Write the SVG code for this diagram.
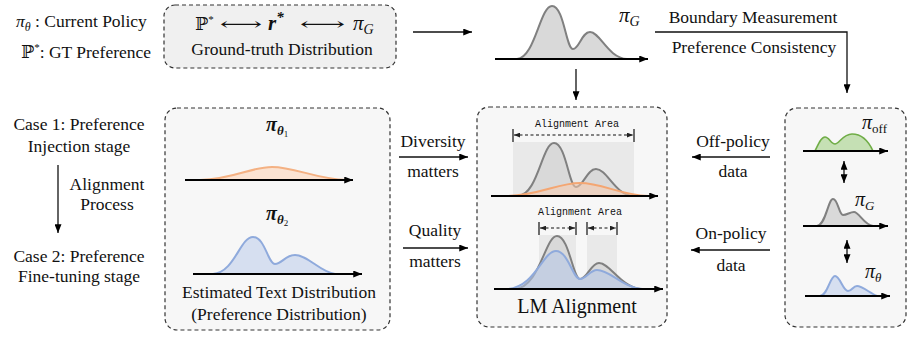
<svg xmlns="http://www.w3.org/2000/svg" width="913" height="338" viewBox="0 0 913 338">
<defs>
<marker id="ah" viewBox="0 0 10 8" refX="10" refY="4" markerWidth="9" markerHeight="7" markerUnits="userSpaceOnUse" orient="auto-start-reverse">
<path d="M0,0 L10,4 L0,8 Z" fill="#000"/>
</marker>
<marker id="ahs" viewBox="0 0 10 8" refX="10" refY="4" markerWidth="6" markerHeight="5" markerUnits="userSpaceOnUse" orient="auto-start-reverse">
<path d="M0,0 L10,4 L0,8 Z" fill="#222"/>
</marker>
<style>
text{font-family:"Liberation Serif","DejaVu Serif","DejaVu Sans",serif;fill:#111;}
.t{font-size:17.5px;}
.m{font-style:italic;}
.mono{font-family:"Liberation Mono","DejaVu Sans Mono",monospace;font-size:10px;}
.box{fill:#f7f7f7;stroke:#333;stroke-width:1.2;stroke-dasharray:4 3;}
.box2{fill:#f0f0f0;stroke:#333;stroke-width:1.2;stroke-dasharray:4 3;}
.conn{fill:none;stroke:#111;stroke-width:1.3;marker-end:url(#ah);}
.axis{fill:none;stroke:#000;stroke-width:2;marker-end:url(#ah);}
.dbl{fill:none;stroke:#111;stroke-width:1.3;marker-start:url(#ah);marker-end:url(#ah);}
.gray{fill:#d9d9d9;stroke:#808080;stroke-width:2;}
.orange{fill:#fbe3d2;stroke:#f4b183;stroke-width:2;}
.orangeT{fill:#f8cbad;fill-opacity:0.55;stroke:#f4a672;stroke-width:2;}
.blue{fill:#d6dff0;stroke:#8faadc;stroke-width:2;}
.blueT{fill:#b4c7e7;fill-opacity:0.55;stroke:#8faadc;stroke-width:2;}
.green{fill:#c5e0b4;stroke:#70ad47;stroke-width:1.6;}
.band{fill:#e9e9e9;}
.brk{fill:none;stroke:#111;stroke-width:1.2;}
.brkd{fill:none;stroke:#111;stroke-width:1.1;stroke-dasharray:3 2.5;marker-start:url(#ahs);marker-end:url(#ahs);}
</style>
</defs>

<g id="legend">
<text class="t" x="16" y="27"><tspan class="m">π</tspan><tspan class="m" font-size="12" dy="4">θ</tspan><tspan dy="-4"> : Current Policy</tspan></text>
<text class="t" x="21" y="58">ℙ<tspan font-size="11" dy="-7">*</tspan><tspan dy="7">: GT Preference</tspan></text>
</g>

<g id="ground-truth">
<rect class="box2" x="164" y="5" width="232" height="63" rx="11"/>
<text class="t" x="195" y="30">ℙ<tspan font-size="11" dy="-7">*</tspan></text>
<text class="t" x="220" y="30" textLength="42" lengthAdjust="spacingAndGlyphs">⟷</text>
<text x="268" y="30" font-size="21" font-weight="bold" font-style="italic">r<tspan font-size="15" dy="-8">*</tspan></text>
<text class="t" x="300" y="30" textLength="45" lengthAdjust="spacingAndGlyphs">⟷</text>
<text x="353" y="30" font-size="21" font-style="italic">π<tspan font-size="14" dy="4">G</tspan></text>
<text class="t" x="282" y="55" text-anchor="middle">Ground-truth Distribution</text>
</g>

<g id="pi-g-top">
<path class="gray" d="M517,59 C535,58 540,6 552,6 C564,6 566,49 573,49 C579,49 582,32 590,32 C600,32 608,58 627,59 Z"/>
<path class="axis" d="M495,59 L648,59"/>
<text x="619" y="22" font-size="21" font-style="italic">π<tspan font-size="14" dy="4">G</tspan></text>
</g>

<g id="stages">
<text class="t" x="79" y="130" text-anchor="middle">Case 1: Preference</text>
<text class="t" x="79" y="152" text-anchor="middle">Injection stage</text>
<text class="t" x="107" y="190" text-anchor="middle">Alignment</text>
<text class="t" x="107" y="210" text-anchor="middle">Process</text>
<text class="t" x="79" y="262" text-anchor="middle">Case 2: Preference</text>
<text class="t" x="79" y="282" text-anchor="middle">Fine-tuning stage</text>
</g>

<g id="estimated">
<rect class="box" x="165" y="108" width="225" height="222" rx="12"/>
<text x="266" y="131" font-size="20" font-weight="bold" font-style="italic">π<tspan font-size="13" dy="4">θ</tspan><tspan font-size="9" font-style="normal" font-weight="normal" dy="2">1</tspan></text>
<path class="orange" d="M200,180 C235,179 250,167 272,167 C295,167 315,179 347,180 Z"/>
<path class="axis" d="M185,180 L353,180"/>
<text x="266" y="220" font-size="20" font-weight="bold" font-style="italic">π<tspan font-size="13" dy="4">θ</tspan><tspan font-size="9" font-style="normal" font-weight="normal" dy="2">2</tspan></text>
<path class="blue" d="M213,274 C235,272 240,237 253,237 C265,237 268,264 275,264 C282,264 285,255 295,255 C308,255 320,272 335,274 Z"/>
<path class="axis" d="M193,274 L362,274"/>
<text class="t" x="279" y="298" text-anchor="middle">Estimated Text Distribution</text>
<text class="t" x="279" y="320" text-anchor="middle">(Preference Distribution)</text>
</g>

<g id="lm-alignment">
<rect class="box" x="477" y="107" width="190" height="220" rx="12"/>
<rect class="band" x="513" y="142" width="121" height="54"/>
<text class="mono" x="577" y="127" text-anchor="middle">Alignment Area</text>
<path class="brk" d="M513,129 L513,142 M634,129 L634,142"/>
<path class="brkd" d="M514,135 L633,135"/>
<path class="gray" d="M518,196 C538,195 542,143 554,143 C566,143 569,187 576,187 C583,187 587,169 596,169 C607,169 615,195 633,196 Z"/>
<path class="orangeT" d="M508,196 C540,195 558,183 580,183 C602,183 620,195 648,196 Z"/>
<path class="axis" d="M491,196 L658,196"/>

<rect class="band" x="539" y="235" width="37" height="54"/>
<rect class="band" x="587" y="235" width="30" height="54"/>
<text class="mono" x="580" y="215" text-anchor="middle">Alignment Area</text>
<path class="brk" d="M539,222 L539,235 M576,222 L576,235 M587,222 L587,235 M617,222 L617,235"/>
<path class="brkd" d="M540,228 L575,228"/>
<path class="brkd" d="M588,228 L616,228"/>
<path class="gray" d="M515,289 C540,287 545,236 557,236 C569,236 573,279 580,279 C587,279 591,263 599,263 C610,263 620,286 640,289 Z"/>
<path class="blueT" d="M508,289 C535,287 543,251 556,251 C568,251 573,279 580,279 C586,279 590,270 597,270 C610,270 622,287 642,289 Z"/>
<path class="axis" d="M494,289 L663,289"/>
<text x="577" y="313" font-size="20" text-anchor="middle">LM Alignment</text>
</g>

<g id="policies">
<rect class="box" x="785" y="108" width="121" height="219" rx="12"/>
<text x="862" y="129" font-size="20" font-style="italic">π<tspan font-size="13" font-style="normal" dy="4">off</tspan></text>
<path class="green" d="M815,151 C818,145 821,137 825,137 C829,137 831,144 835,144 C839,144 843,134 852,134 C862,134 868,140 873,151 Z"/>
<path class="axis" d="M803,151 L888,151"/>
<path class="dbl" d="M844,161 L844,183"/>
<text x="855" y="206" font-size="20" font-style="italic">π<tspan font-size="13" dy="4">G</tspan></text>
<path class="gray" d="M817,226 C826,225 828,199 833,199 C838,199 839,215 843,215 C847,215 850,212 854,212 C859,212 864,225 873,226 Z"/>
<path class="axis" d="M803,226 L888,226"/>
<path class="dbl" d="M847,240 L847,263"/>
<text x="865" y="278" font-size="20" font-style="italic">π<tspan font-size="13" dy="4">θ</tspan></text>
<path class="blue" d="M820,296 C828,295 830,276 835,276 C840,276 843,291 848,291 C852,291 853,286 857,286 C862,286 870,293 877,296 Z"/>
<path class="axis" d="M805,296 L890,296"/>
</g>

<g id="connector-labels">
<text class="t" x="753" y="23" text-anchor="middle">Boundary Measurement</text>
<text class="t" x="754" y="53" text-anchor="middle">Preference Consistency</text>
<text class="t" x="433" y="147" text-anchor="middle">Diversity</text>
<text class="t" x="433" y="177" text-anchor="middle">matters</text>
<text class="t" x="435" y="236" text-anchor="middle">Quality</text>
<text class="t" x="435" y="267" text-anchor="middle">matters</text>
<text class="t" x="733" y="147" text-anchor="middle">Off-policy</text>
<text class="t" x="733" y="177" text-anchor="middle">data</text>
<text class="t" x="731" y="239" text-anchor="middle">On-policy</text>
<text class="t" x="731" y="271" text-anchor="middle">data</text>
</g>

<g id="connectors">
<path class="conn" d="M413,32 L472,32"/>
<path class="conn" d="M655,32 L847,32 L847,93"/>
<path class="conn" d="M576,69 L576,100"/>
<path class="conn" d="M58,165 L58,233"/>
<path class="conn" d="M399,157 L468,157"/>
<path class="conn" d="M403,248 L468,248"/>
<path class="conn" d="M770,157 L692,157"/>
<path class="conn" d="M770,250 L691,250"/>
</g>
</svg>
